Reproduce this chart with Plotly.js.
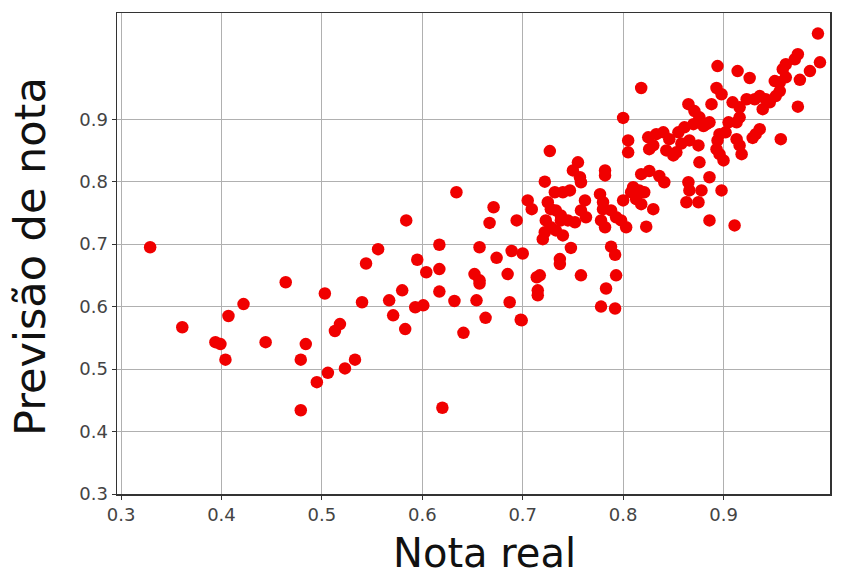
<!DOCTYPE html>
<html><head><meta charset="utf-8">
<script src="https://cdn.plot.ly/plotly-3.0.1.min.js"></script>
<style>html,body{margin:0;padding:0;background:#fff}#chart{width:843px;height:576px}</style>
</head><body><div id="chart"></div>
<script>
const notaReal = [
0.329,0.361,0.394,0.399,0.404,0.407,0.422,0.444,0.464,0.479,0.479,0.484,0.495,0.503,0.506,0.513,0.518,0.523,0.533,
0.540,0.544,0.556,0.567,0.571,0.580,0.583,0.584,0.593,0.601,0.595,0.604,0.617,0.617,0.617,0.620,0.632,0.634,0.641,
0.652,0.657,0.657,0.654,0.657,0.663,0.667,0.671,0.674,0.685,0.687,0.689,0.694,0.698,0.700,0.705,0.709,0.714,0.715,0.715,0.717,
0.727,0.722,0.732,0.740,0.747,0.755,0.750,0.757,0.758,0.782,0.782,0.725,0.728,0.733,0.738,0.745,0.752,0.723,0.728,0.722,0.720,
0.733,0.740,0.738,0.762,0.758,0.763,0.777,0.780,0.780,0.778,0.782,0.788,0.793,0.798,0.803,0.808,0.813,0.818,0.810,0.800,
0.748,0.737,0.737,0.788,0.792,0.758,0.793,0.783,0.778,0.792,0.699,
0.800,0.805,0.805,0.818,
0.825,0.833,0.840,0.846,0.855,0.826,0.843,0.850,0.858,0.866,0.875,0.861,0.870,0.880,0.886,0.905,0.830,0.853,
0.865,0.871,0.876,0.883,
0.894,0.914,0.926,0.893,0.898,0.888,
0.974,0.971,0.962,0.959,0.951,0.956,0.962,0.994,0.996,0.986,0.976,0.974,
0.909,0.916,0.923,0.931,0.936,0.942,0.946,0.952,0.939,0.956,
0.916,0.913,0.902,
0.957,0.932,0.936,0.929,0.913,0.916,0.918,0.896,0.894,0.893,0.896,0.900,0.876,0.886,0.865,0.866,0.878,0.863,0.875,0.898,0.886,0.911,0.821,
0.818,0.826,0.836,0.841,0.816,0.830,0.823
];
const previsao = [
0.695,0.567,0.543,0.540,0.515,0.585,0.604,0.543,0.639,0.515,0.434,0.540,0.479,0.621,0.494,0.561,0.572,0.501,0.515,
0.607,0.669,0.692,0.610,0.586,0.626,0.564,0.738,0.599,0.602,0.675,0.655,0.660,0.699,0.624,0.438,0.609,0.783,0.558,
0.652,0.642,0.637,0.610,0.695,0.582,0.734,0.759,0.678,0.652,0.607,0.689,0.738,0.579,0.685,0.770,0.756,0.647,0.626,0.618,0.650,
0.849,0.800,0.783,0.783,0.786,0.831,0.818,0.807,0.799,0.818,0.810,0.767,0.756,0.754,0.746,0.738,0.735,0.738,0.727,0.719,0.708,
0.722,0.714,0.738,0.770,0.754,0.743,0.780,0.767,0.756,0.738,0.727,0.754,0.743,0.738,0.727,0.783,0.772,0.764,0.791,0.770,
0.694,0.676,0.668,0.696,0.683,0.650,0.650,0.629,0.600,0.597,0.578,
0.902,0.866,0.847,0.950,
0.871,0.876,0.879,0.868,0.879,0.852,0.850,0.842,0.861,0.866,0.858,0.887,0.892,0.889,0.895,0.895,0.858,0.847,
0.924,0.913,0.903,0.892,
0.985,0.977,0.966,0.950,0.940,0.924,
1.004,0.996,0.988,0.980,0.961,0.959,0.967,1.037,0.991,0.977,0.963,0.920,
0.927,0.919,0.932,0.932,0.937,0.932,0.927,0.937,0.916,0.945,
0.903,0.895,0.879,
0.868,0.876,0.884,0.870,0.868,0.858,0.844,0.876,0.866,0.852,0.844,0.834,0.831,0.807,0.799,0.786,0.786,0.767,0.767,0.786,0.738,0.730,0.783,
0.812,0.817,0.809,0.799,0.786,0.756,0.728
];
const tickVals = [0.3,0.4,0.5,0.6,0.7,0.8,0.9];
const tickText = ['0.3','0.4','0.5','0.6','0.7','0.8','0.9'];
const xTitle = 'Nota real';
const yTitle = 'Previsão de nota';

const axisCommon = {
  tickvals: tickVals, ticktext: tickText,
  showgrid: true, gridcolor: '#b0b0b0', gridwidth: 1,
  zeroline: false, showline: true, mirror: true, linecolor: '#333', linewidth: 1.5,
  ticks: 'outside', ticklen: 4, tickcolor: '#333', tickwidth: 1,
  tickfont: {family: 'DejaVu Sans', size: 18, color: '#444'}
};
Plotly.newPlot('chart', [{
  x: notaReal, y: previsao, type: 'scatter', mode: 'markers',
  marker: {color: '#f00000', size: 12.5}
}], {
  width: 843, height: 576,
  margin: {l: 117, r: 13, t: 13, b: 82},
  paper_bgcolor: '#fff', plot_bgcolor: '#fff', showlegend: false,
  xaxis: Object.assign({}, axisCommon, {range: [0.296, 1.006]}),
  yaxis: Object.assign({}, axisCommon, {range: [0.3, 1.07]}),
  annotations: [
    {text: xTitle, xref: 'paper', yref: 'paper', x: 0.516, y: -0.1227, borderpad: 0,
     xanchor: 'center', yanchor: 'middle', showarrow: false,
     font: {family: 'DejaVu Sans', size: 40, color: '#111'}},
    {text: yTitle, xref: 'paper', yref: 'paper', x: -0.122, y: 0.493, textangle: -90, borderpad: 0,
     xanchor: 'center', yanchor: 'middle', showarrow: false,
     font: {family: 'DejaVu Sans', size: 43, color: '#111'}}
  ]
}, {displayModeBar: false, staticPlot: true});
</script></body></html>
